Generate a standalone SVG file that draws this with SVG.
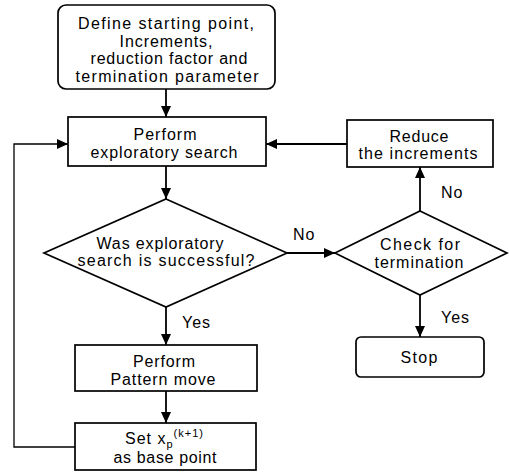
<svg xmlns="http://www.w3.org/2000/svg" width="509" height="475" viewBox="0 0 509 475">
<defs>
<marker id="ah" markerUnits="userSpaceOnUse" markerWidth="11" markerHeight="10" refX="11" refY="5" orient="auto">
<path d="M0,0 L11,5 L0,10 z" fill="#000"/>
</marker>
<style>
.box{fill:#fff;stroke:#000;stroke-width:1.7}
.t{font-family:"Liberation Sans",Arial,sans-serif;font-size:16px;fill:#000;text-anchor:middle}
.l{font-family:"Liberation Sans",Arial,sans-serif;font-size:16px;fill:#000;letter-spacing:1px}
.c{fill:none;stroke:#000;stroke-width:1.8}
.thin{fill:none;stroke:#000;stroke-width:1.3}
</style>
</defs>
<rect width="509" height="475" fill="#fff"/>
<g id="connectors">
<line class="c" x1="166" y1="89" x2="166" y2="117" marker-end="url(#ah)"/>
<line class="c" x1="166" y1="166" x2="166" y2="199" marker-end="url(#ah)"/>
<line class="c" x1="166" y1="307" x2="166" y2="345" marker-end="url(#ah)"/>
<line class="c" x1="166" y1="391" x2="166" y2="423" marker-end="url(#ah)"/>
<polyline class="thin" points="75,447 14,447 14,144 68,144" marker-end="url(#ah)"/>
<line class="c" x1="287" y1="253" x2="335" y2="253" marker-end="url(#ah)"/>
<line class="c" x1="420" y1="211" x2="420" y2="167" marker-end="url(#ah)"/>
<line class="c" x1="347" y1="144" x2="266" y2="144" marker-end="url(#ah)"/>
<line class="c" x1="420" y1="295" x2="420" y2="337" marker-end="url(#ah)"/>
<text class="l" x="293" y="240">No</text>
<text class="l" x="441" y="198">No</text>
<text class="l" x="441" y="323">Yes</text>
<text class="l" x="182" y="328">Yes</text>
</g>
<g id="start">
<rect class="box" x="58" y="5" width="217" height="84" rx="8"/>
<text class="t" x="166" y="29" textLength="176" lengthAdjust="spacing">Define starting point,</text>
<text class="t" x="166" y="47" textLength="93" lengthAdjust="spacing">Increments,</text>
<text class="t" x="169" y="64" textLength="157" lengthAdjust="spacing">reduction factor and</text>
<text class="t" x="167" y="82" textLength="183" lengthAdjust="spacing">termination parameter</text>
</g>
<g id="explore">
<rect class="box" x="68" y="117" width="198" height="49"/>
<text class="t" x="165" y="140" textLength="63" lengthAdjust="spacing">Perform</text>
<text class="t" x="164" y="158" textLength="147" lengthAdjust="spacing">exploratory search</text>
</g>
<g id="success">
<polygon class="box" points="166,199 287,253 166,307 44,253"/>
<text class="t" x="160" y="249" textLength="127" lengthAdjust="spacing">Was exploratory</text>
<text class="t" x="166" y="266" textLength="177" lengthAdjust="spacing">search is successful?</text>
</g>
<g id="pattern">
<rect class="box" x="75" y="345" width="182" height="46"/>
<text class="t" x="164" y="367" textLength="62" lengthAdjust="spacing">Perform</text>
<text class="t" x="163" y="385" textLength="105" lengthAdjust="spacing">Pattern move</text>
</g>
<g id="setbase">
<rect class="box" x="75" y="423" width="181" height="47"/>
<text class="l" x="125" y="444">Set x<tspan font-size="11" dy="4">p</tspan><tspan font-size="11" dy="-11">(k+1)</tspan></text>
<text class="t" x="165" y="463" textLength="103" lengthAdjust="spacing">as base point</text>
</g>
<g id="reduce">
<rect class="box" x="347" y="120" width="146" height="47"/>
<text class="t" x="419" y="142" textLength="59" lengthAdjust="spacing">Reduce</text>
<text class="t" x="418" y="159" textLength="119" lengthAdjust="spacing">the increments</text>
</g>
<g id="termination">
<polygon class="box" points="420,211 507,253 420,295 335,253"/>
<text class="t" x="420" y="250" textLength="80" lengthAdjust="spacing">Check for</text>
<text class="t" x="419" y="268" textLength="89" lengthAdjust="spacing">termination</text>
</g>
<g id="stop">
<rect class="box" x="356" y="337" width="128" height="40" rx="5"/>
<text class="t" x="419" y="363" textLength="37" lengthAdjust="spacing">Stop</text>
</g>
</svg>
